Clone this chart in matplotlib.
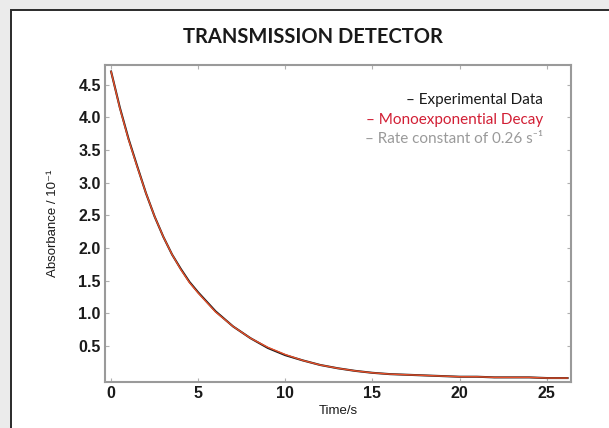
import matplotlib
matplotlib.use("Agg")
import matplotlib.pyplot as plt
from matplotlib.patches import Rectangle

# values
time_s = [0, 0.5, 1, 1.5, 2, 2.5, 3, 3.5, 4, 4.5, 5, 6, 7, 8, 9, 10, 11, 12,
          13, 14, 15, 16, 17, 18, 19, 20, 21, 22, 23, 24, 25, 26.2]
experimental = [4.70, 4.15, 3.67, 3.25, 2.84, 2.48, 2.17, 1.90, 1.68, 1.48,
                1.32, 1.03, 0.80, 0.62, 0.47, 0.36, 0.28, 0.21, 0.16, 0.12,
                0.09, 0.07, 0.06, 0.05, 0.04, 0.03, 0.03, 0.02, 0.02, 0.02,
                0.01, 0.01]
fitted = [4.70, 4.14, 3.66, 3.24, 2.84, 2.48, 2.17, 1.90, 1.67, 1.47,
          1.31, 1.02, 0.80, 0.62, 0.48, 0.37, 0.28, 0.21, 0.16, 0.12,
          0.09, 0.07, 0.06, 0.05, 0.04, 0.03, 0.03, 0.02, 0.02, 0.02,
          0.01, 0.01]
x_ticks = [0, 5, 10, 15, 20, 25]
y_ticks = [0.5, 1.0, 1.5, 2.0, 2.5, 3.0, 3.5, 4.0, 4.5]
legend_lines = ["– Experimental Data", "– Monoexponential Decay",
                "– Rate constant of 0.26 s\u207b\u00b9"]
legend_colors = ['#1a1a1a', '#d21f35', '#9a9a9a']

W, H = 609, 428
fig = plt.figure(figsize=(W / 100, H / 100), dpi=100)
fig.patch.set_facecolor('#ebebeb')

# white card with dark border, runs off the right and bottom edges
top = 1 - 10 / H
fig.patches.append(Rectangle((11 / W, -0.2), 1.2, top + 0.2,
                             transform=fig.transFigure, facecolor='white',
                             edgecolor='#2a2a2a', linewidth=1.4, zorder=-5))

ax = fig.add_axes([105 / W, (H - 381.7) / H, (571 - 105) / W, (381.7 - 65) / H])
ax.set_facecolor('white')

ax.plot(time_s, experimental, color='#1a1a1a', linewidth=1.5)
ax.plot(time_s, fitted, color='#e8502a', linewidth=1.0)

ax.set_xlim(-0.35, 26.4)
ax.set_ylim(-0.046, 4.80)
ax.set_xticks(x_ticks)
ax.set_yticks(y_ticks)
ax.set_yticklabels([f"{v:.1f}" for v in y_ticks])

for s in ax.spines.values():
    s.set_color('#9a9a9a')
    s.set_linewidth(1.5)
ax.tick_params(direction='in', length=3, width=0.8, color='#b0b0b0',
               top=True, right=True, labelsize=11.5, labelcolor='#1a1a1a', pad=3)
for lab in ax.get_xticklabels() + ax.get_yticklabels():
    lab.set_family('Liberation Sans')
    lab.set_fontweight('bold')

ax.set_xlabel("Time/s", family='Liberation Sans', fontsize=9.5, color='#1a1a1a', labelpad=3)
ax.set_ylabel("Absorbance / 10\u207b\u00b9", family=['Liberation Sans', 'DejaVu Sans'],
              fontsize=9.5, color='#1a1a1a', labelpad=14)

fig.text(313 / W, 1 - 37 / H, "TRANSMISSION DETECTOR", family='Lato', fontweight='bold',
         fontsize=14.5, color='#1a1a1a', ha='center', va='center')

for i, (txt, col) in enumerate(zip(legend_lines, legend_colors)):
    fig.text(543 / W, 1 - (100 + 19.5 * i) / H, txt, family=['Lato', 'DejaVu Sans'],
             fontsize=11, color=col, ha='right', va='center')

fig.savefig('out.png', dpi=100, facecolor=fig.get_facecolor())
